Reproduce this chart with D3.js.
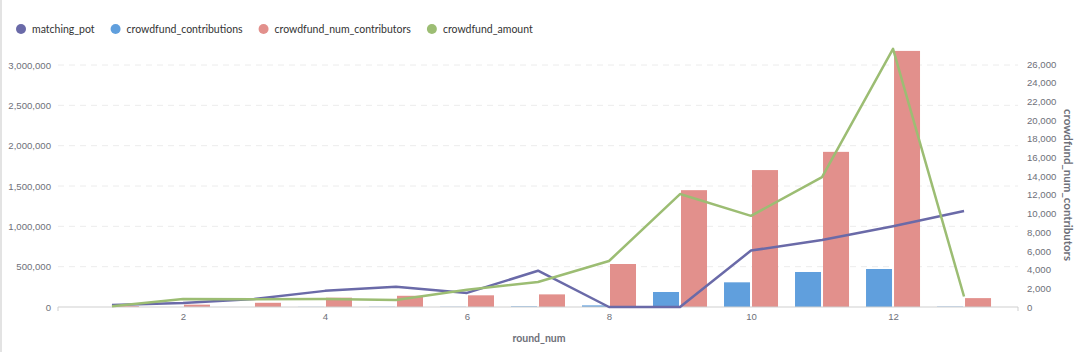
<!DOCTYPE html>
<html>
<head>
<meta charset="utf-8">
<script src="https://cdn.jsdelivr.net/npm/d3@7"></script>
<style>
  body { margin: 0; background: #fff; }
  svg { font-family: Lato, "Noto Sans", sans-serif; }
</style>
</head>
<body>
<div id="chart"></div>
<script>
// round data
var rounds = [1, 2, 3, 4, 5, 6, 7, 8, 9, 10, 11, 12, 13];
var matchingPot = [25000, 50000, 100000, 200000, 250000, 175000, 450000, 0, 0, 700000, 830000, 1000000, 1190000];
var crowdfundContributions = [0, 0, 0, 2000, 3000, 3000, 8000, 20000, 186000, 306000, 434000, 471000, 5000];
var crowdfundNumContributors = [100, 250, 450, 1000, 1200, 1250, 1350, 4600, 12500, 14650, 16600, 27400, 950];
var crowdfundAmount = [10000, 100000, 95000, 100000, 87000, 215000, 310000, 570000, 1400000, 1130000, 1610000, 3200000, 130000];

var leftTicks = [0, 500000, 1000000, 1500000, 2000000, 2500000, 3000000];
var rightTicks = [0, 2000, 4000, 6000, 8000, 10000, 12000, 14000, 16000, 18000, 20000, 22000, 24000, 26000];
var xTicks = [2, 4, 6, 8, 10, 12];

var series = [
  {name: "matching_pot", color: "#6a6aa8"},
  {name: "crowdfund_contributions", color: "#609fdd"},
  {name: "crowdfund_num_contributors", color: "#e2908c"},
  {name: "crowdfund_amount", color: "#9cbd73"}
];

var width = 1080, height = 352;
var svg = d3.select("#chart").append("svg")
    .attr("width", width)
    .attr("height", height);

var x = d3.scaleLinear().domain([0.24, 13.76]).range([58, 1018]);
var yL = d3.scaleLinear().domain([0, 3000000]).range([307, 65]);
var yR = d3.scaleLinear().domain([0, 26000]).range([307, 64]);
var fmt = d3.format(",");
var axisColor = "#6e7079";

// panel edge
svg.append("line").attr("x1", 1).attr("x2", 1).attr("y1", 0).attr("y2", height)
    .attr("stroke", "#e3e3e3").attr("stroke-width", 2);

// grid
svg.append("g").selectAll("line").data(leftTicks.slice(1)).enter().append("line")
    .attr("x1", 58).attr("x2", 1018)
    .attr("y1", function(d) { return yL(d); })
    .attr("y2", function(d) { return yL(d); })
    .attr("stroke", "#ececec")
    .attr("stroke-dasharray", "6,5");

// left axis
var gL = svg.append("g").attr("transform", "translate(58,0)")
    .call(d3.axisLeft(yL).tickValues(leftTicks).tickFormat(fmt).tickSize(0).tickPadding(7));
gL.select(".domain").remove();
gL.selectAll("text").attr("fill", axisColor).style("font-size", "9.6px");

// right axis
var gR = svg.append("g").attr("transform", "translate(1018,0)")
    .call(d3.axisRight(yR).tickValues(rightTicks).tickFormat(fmt).tickSize(0).tickPadding(9));
gR.select(".domain").remove();
gR.selectAll("text").attr("fill", axisColor).style("font-size", "9.6px");

svg.append("text")
    .attr("transform", "translate(1064,185) rotate(90)")
    .attr("text-anchor", "middle")
    .attr("fill", axisColor)
    .style("font-size", "11.5px")
    .style("font-weight", "bold")
    .text("crowdfund_num_contributors");

// bars
var bw = 26;
svg.append("g").selectAll("rect").data(rounds).enter().append("rect")
    .attr("x", function(d) { return x(d) - bw - 1; })
    .attr("y", function(d, i) { return yL(crowdfundContributions[i]); })
    .attr("width", bw)
    .attr("height", function(d, i) { return yL(0) - yL(crowdfundContributions[i]); })
    .attr("fill", series[1].color);

svg.append("g").selectAll("rect").data(rounds).enter().append("rect")
    .attr("x", function(d) { return x(d) + 1; })
    .attr("y", function(d, i) { return yR(crowdfundNumContributors[i]); })
    .attr("width", bw)
    .attr("height", function(d, i) { return yR(0) - yR(crowdfundNumContributors[i]); })
    .attr("fill", series[2].color);

// bottom axis
var gX = svg.append("g").attr("transform", "translate(0,307)")
    .call(d3.axisBottom(x).tickValues(xTicks).tickSize(0).tickPadding(6));
gX.select(".domain").attr("stroke", "#cfcfcf").attr("d", "M58,4V0H1018V4");
gX.selectAll("text").attr("fill", axisColor).style("font-size", "9.6px");

svg.append("text")
    .attr("x", 539).attr("y", 342)
    .attr("text-anchor", "middle")
    .attr("fill", axisColor)
    .style("font-size", "10.5px")
    .style("font-weight", "bold")
    .text("round_num");

// lines
function drawLine(vals, color) {
  var line = d3.line()
      .x(function(d, i) { return x(rounds[i]); })
      .y(function(d) { return yL(d); });
  svg.append("path").datum(vals)
      .attr("d", line)
      .attr("fill", "none")
      .attr("stroke", color)
      .attr("stroke-width", 2.5)
      .attr("stroke-linejoin", "round");
}
drawLine(matchingPot, series[0].color);
drawLine(crowdfundAmount, series[3].color);

// legend
var lx = 21;
series.forEach(function(s) {
  var g = svg.append("g").attr("transform", "translate(" + lx + ",29)");
  g.append("circle").attr("r", 5).attr("fill", s.color);
  var t = g.append("text").attr("x", 11).attr("y", 3.7)
      .attr("fill", "#333")
      .style("font-size", "10.5px")
      .text(s.name);
  lx += 11 + t.node().getComputedTextLength() + 21;
});
</script>
</body>
</html>
